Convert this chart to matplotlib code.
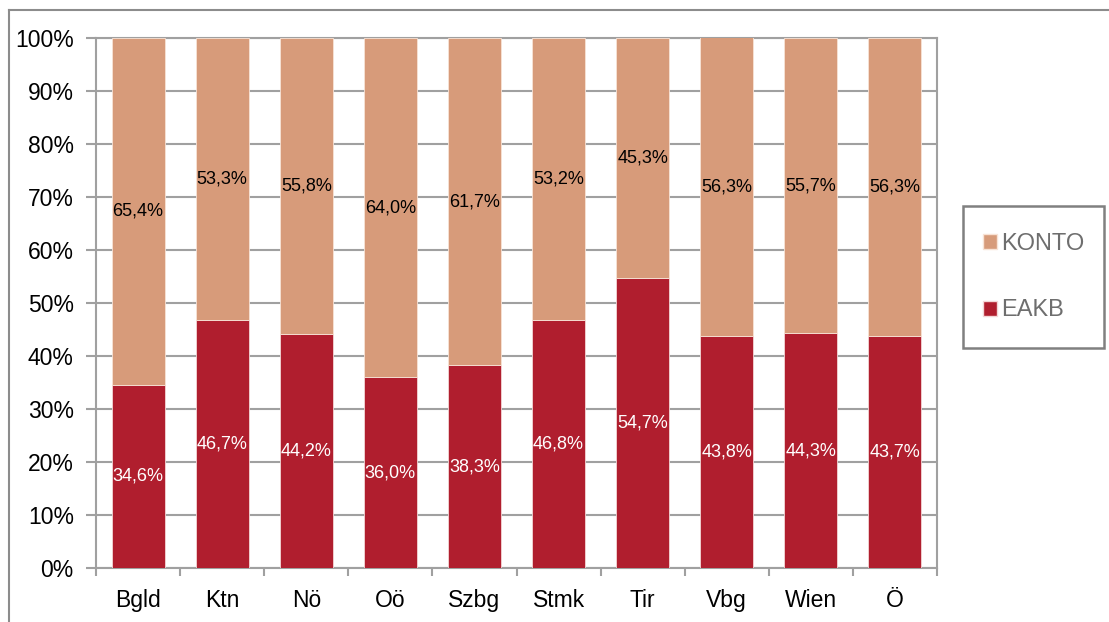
import matplotlib
matplotlib.use("Agg")
import matplotlib.pyplot as plt
from matplotlib.patches import Patch, Rectangle
from matplotlib.lines import Line2D
import numpy as np

plt.rcParams['font.family'] = ['Liberation Sans', 'DejaVu Sans']

regions = ["Bgld", "Ktn", "Nö", "Oö", "Szbg", "Stmk", "Tir", "Vbg", "Wien", "Ö"]
eakb = [34.6, 46.7, 44.2, 36.0, 38.3, 46.8, 54.7, 43.8, 44.3, 43.7]
konto = [65.4, 53.3, 55.8, 64.0, 61.7, 53.2, 45.3, 56.3, 55.7, 56.3]

c_eakb = "#B01E2E"
c_konto = "#D79B7A"
grid_c = "#A0A0A0"

fig = plt.figure(figsize=(11.09, 6.22), dpi=100)
W, H = 1109, 622
ax = fig.add_axes([96 / W, 1 - 568 / H, (937 - 96) / W, (568 - 38) / H])

x = np.arange(len(regions))
bw = 0.63
ax.bar(x, eakb, bw, color=c_eakb, edgecolor="#F3D6D6", linewidth=0.6, zorder=3)
ax.bar(x, konto, bw, bottom=eakb, color=c_konto, edgecolor="#F8E3D6", linewidth=0.6, zorder=3)

fmt = lambda v: f"{v:.1f}%".replace(".", ",")
for xi, e, k in zip(x, eakb, konto):
    ax.text(xi, e / 2, fmt(e), ha="center", va="center", color="white", fontsize=13, zorder=4)
    ax.text(xi, e + k / 2, fmt(k), ha="center", va="center", color="black", fontsize=13, zorder=4)

ax.set_xlim(-0.5, len(regions) - 0.5)
ax.set_ylim(0, 100)
ax.set_yticks(np.arange(0, 101, 10))
ax.set_yticklabels([f"{v}%" for v in range(0, 101, 10)], fontsize=16.5)
ax.set_xticks(x)
ax.set_xticklabels(regions, fontsize=16.5)
ax.tick_params(axis="x", length=0, pad=15)
ax.tick_params(axis="y", length=7, width=1.5, color=grid_c, pad=9)
ax.set_xticks(np.arange(-0.5, len(regions), 1), minor=True)
ax.tick_params(axis="x", which="minor", length=6, width=1.5, color=grid_c)
ax.yaxis.grid(True, color=grid_c, linewidth=1.5, zorder=0)
ax.set_axisbelow(True)
for s in ax.spines.values():
    s.set_color(grid_c)
    s.set_linewidth(1.5)

# legend: frame box drawn separately, entries inside it
fig.add_artist(Rectangle((963 / W, 1 - 348 / H), (1104 - 963) / W, (348 - 206) / H,
                         transform=fig.transFigure, fill=False,
                         edgecolor="#808080", linewidth=1.8))
handles = [Patch(facecolor=c_konto, edgecolor="#F8E3D6", label="KONTO"),
           Patch(facecolor=c_eakb, edgecolor="#F3D6D6", label="EAKB")]
fig.legend(handles=handles, loc="center left", bbox_to_anchor=(983 / W, 1 - 277 / H),
           frameon=False, fontsize=17, labelcolor="#6E6E6E",
           handlelength=0.6, handleheight=0.6, handletextpad=0.15,
           labelspacing=1.9, borderpad=0, borderaxespad=0)

# outer chart frame
fig.add_artist(Line2D([9 / W, 1], [1 - 10 / H, 1 - 10 / H], color="#8C8C8C", linewidth=1.5))
fig.add_artist(Line2D([9 / W, 9 / W], [0, 1 - 10 / H], color="#8C8C8C", linewidth=1.5))

fig.savefig("out.png", dpi=100)
